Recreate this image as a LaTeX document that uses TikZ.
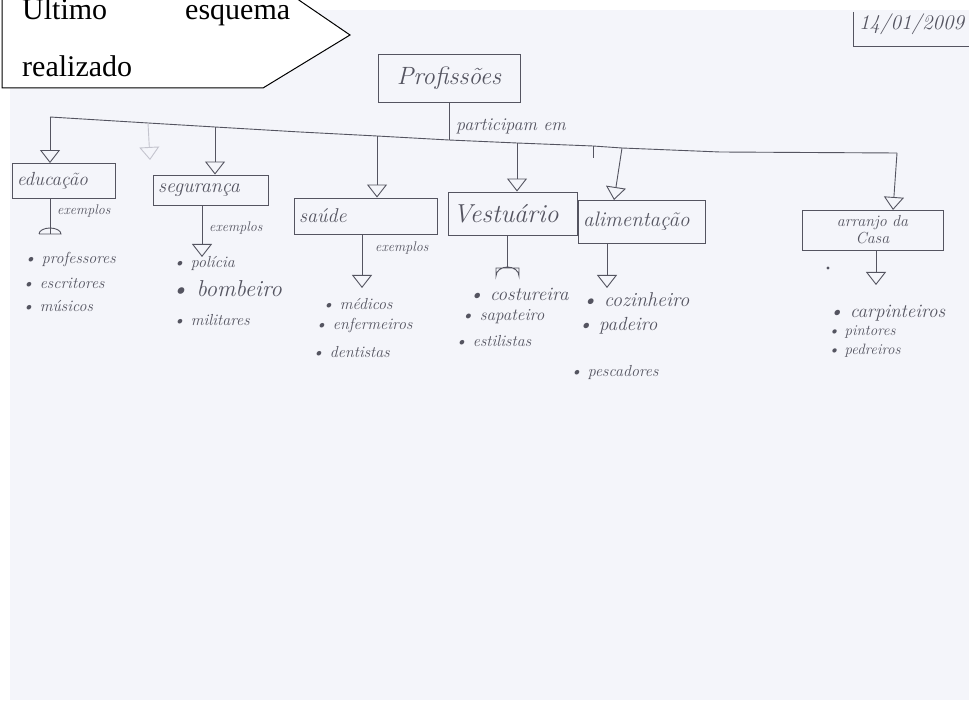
\documentclass[tikz,border=0pt]{standalone}
\usepackage{fontspec}
\usetikzlibrary{arrows.meta}
\newfontfamily\calloutfont{Liberation Serif}
\definecolor{paper}{RGB}{244,245,250}
\definecolor{penc}{RGB}{84,84,96}
\definecolor{faint}{RGB}{196,196,206}
\begin{document}
\begin{tikzpicture}[x=1pt,y=-1pt,
  pencil/.style={draw=penc, line width=0.9pt},
  drop/.style={pencil, -{Triangle[open, width=20pt, length=13pt, line width=0.9pt]}},
  box/.style={pencil, rectangle, inner xsep=5pt, inner ysep=3pt, text=penc, align=left},
  hand/.style={text=penc, inner sep=0pt, font=\itshape\fontsize{#1}{#1}\selectfont},
  hand/.default=16,
  item/.style={hand=#1, anchor=west},
  item/.default=16]
% sheet and margins
\useasboundingbox (0,0) rectangle (969,708);
\fill[white] (0,0) rectangle (969,708);
\fill[paper] (10,10) rectangle (969,700);

% callout in the corner
\filldraw[fill=white, draw=black, line width=1pt]
  (2,-6) -- (2,88) -- (263,88) -- (350,35) -- (290,-6) -- cycle;
\node[anchor=base west, text width=268pt, align=justify, inner sep=0pt,
      font=\calloutfont\fontsize{30}{57}\selectfont]
  (note) at (22,20) {Último esquema \mbox{realizado}};

% date
\node[hand=21, anchor=west] (date) at (859,24) {14/01/2009};
\draw[pencil] (853,12) -- (853,46) -- (975,46);

% root concept
\node[box, minimum width=142pt, minimum height=48pt, align=center,
      font=\itshape\fontsize{25}{27}\selectfont] (prof) at (449,78) {Profissões};

% bus line
\coordinate (b1) at (50,117);
\coordinate (bg) at (148,123);
\coordinate (b2) at (215,127);
\coordinate (k1) at (300,132);
\coordinate (b3) at (377,136);
\coordinate (jn) at (449,140);
\coordinate (b4) at (517,143);
\coordinate (bt) at (593,146);
\coordinate (b5) at (622,148);
\coordinate (k2) at (720,152);
\coordinate (b6) at (897,153);
\draw[pencil] (b1) -- (bg) -- (b2) -- (k1) -- (b3) -- (jn) -- (b4) -- (bt) -- (b5) -- (k2) -- (b6);
\draw[pencil] (prof.south) -- (jn);
\node[hand=18, anchor=west] (part) at (456,126) {participam em};

% category boxes
\node[box, text width=93pt, minimum height=35pt,
      font=\itshape\fontsize{19}{21}\selectfont] (edu) at (63.5,181) {educação};
\node[box, text width=105pt, minimum height=30pt,
      font=\itshape\fontsize{20}{22}\selectfont] (seg) at (210.5,190) {segurança};
\node[box, text width=133pt, minimum height=36pt,
      font=\itshape\fontsize{20}{22}\selectfont] (sau) at (365.5,216) {saúde};
\node[box, text width=119pt, minimum height=43pt,
      font=\itshape\fontsize{26}{28}\selectfont] (ves) at (512.5,213.5) {Vestuário};
\node[box, text width=117pt, minimum height=43pt,
      font=\itshape\fontsize{21}{23}\selectfont] (ali) at (641.5,221.5) {alimentação};
\node[box, text width=131pt, minimum height=40pt, align=center,
      font=\itshape\fontsize{16}{17}\selectfont] (casa) at (872.5,230) {arranjo da\\ Casa};

% drops from the bus
\draw[drop] (b1) -- (b1 |- edu.north);
\draw[drop, faint] (bg) -- (150,160);
\draw[drop] (b2) -- (b2 |- seg.north);
\draw[drop] (b3) -- (b3 |- sau.north);
\draw[drop] (b4) -- (b4 |- ves.north);
\draw[drop] (b5) -- (614,200);
\draw[pencil] (bt) -- (593,158);
\draw[drop] (b6) -- (893,210);

% "exemplos" links
\node[hand=14, anchor=west] (ex1) at (57,211) {exemplos};
\node[hand=14, anchor=west] (ex2) at (209,228) {exemplos};
\node[hand=14, anchor=west] (ex3) at (375,248) {exemplos};

% sub-stems down to the lists
\coordinate (e1) at (50,234);
\coordinate (e2) at (202,257);
\coordinate (e3) at (362,288);
\coordinate (e4) at (507,268);
\coordinate (e5) at (607,288);
\coordinate (e6) at (876,285);
\draw[pencil] (e1 |- edu.south) -- (e1);
\draw[pencil] (39,234) -- (61,234) arc[start angle=0, end angle=-180, x radius=11, y radius=6];
\draw[drop] (e2 |- seg.south) -- (e2);
\draw[drop] (e3 |- sau.south) -- (e3);
\draw[pencil] (e4 |- ves.south) -- (e4);
\draw[pencil] (496,268) -- (519,268) -- (519,276) arc[start angle=0, end angle=-180, x radius=11.5, y radius=9] -- cycle;
\draw[drop] (e5 |- ali.south) -- (e5);
\draw[drop] (e6 |- casa.south) -- (e6);
\fill[penc] (828,268) circle (1.6);

% lists of examples
\node[item] (i11) at (24,260) {\textbullet\ professores};
\node[item] (i12) at (22,283) {\textbullet\ escritores};
\node[item] (i13) at (22,306) {\textbullet\ músicos};

\node[item] (i21) at (173,263) {\textbullet\ polícia};
\node[item=23] (i22) at (171,289) {\textbullet\ bombeiro};
\node[item] (i23) at (173,320) {\textbullet\ militares};

\node[item] (i31) at (322,304) {\textbullet\ médicos};
\node[item] (i32) at (315,326) {\textbullet\ enfermeiros};
\node[item] (i33) at (312,352) {\textbullet\ dentistas};

\node[item=19] (i41) at (469,294) {\textbullet\ costureira};
\node[item=17] (i42) at (461,317) {\textbullet\ sapateiro};
\node[item] (i43) at (455,341) {\textbullet\ estilistas};

\node[item=20] (i51) at (582,300) {\textbullet\ cozinheiro};
\node[item=19] (i52) at (578,326) {\textbullet\ padeiro};
\node[item] (i53) at (570,373) {\textbullet\ pescadores};

\node[item=19] (i61) at (829,313) {\textbullet\ carpinteiros};
\node[item=15] (i62) at (828,332) {\textbullet\ pintores};
\node[item=15] (i63) at (828,351) {\textbullet\ pedreiros};
\end{tikzpicture}
\end{document}
